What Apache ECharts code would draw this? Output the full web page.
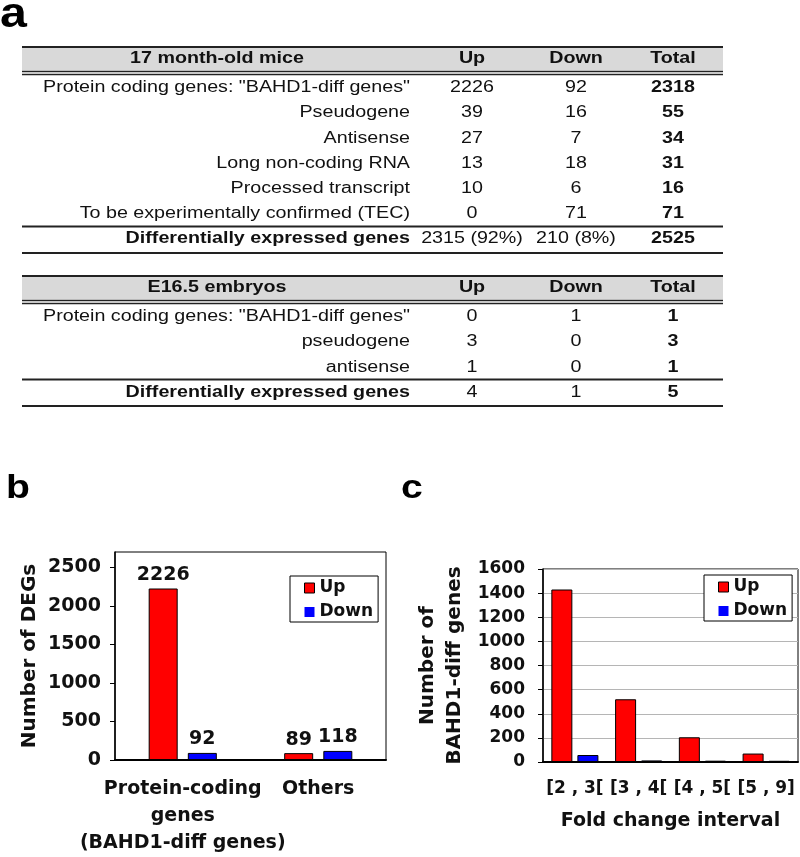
<!DOCTYPE html>
<html><head><meta charset="utf-8">
<script src="https://cdn.jsdelivr.net/npm/echarts@6.0.0/dist/echarts.min.js"></script>
<style>html,body{margin:0;padding:0;background:#fff}#chart{width:800px;height:857px}</style>
</head><body><div id="chart"></div>
<script>
// ---------- table data ----------
const tableColumns = ['Up', 'Down', 'Total'];
const miceTitle = '17 month-old mice';
const miceLabels = ['Protein coding genes: "BAHD1-diff genes"', 'Pseudogene', 'Antisense', 'Long non-coding RNA', 'Processed transcript', 'To be experimentally confirmed (TEC)'];
const miceUp = [2226, 39, 27, 13, 10, 0];
const miceDown = [92, 16, 7, 18, 6, 71];
const miceTotal = [2318, 55, 34, 31, 16, 71];
const miceSumLabel = 'Differentially expressed genes';
const miceSum = ['2315 (92%)', '210 (8%)', '2525'];
const embTitle = 'E16.5 embryos';
const embLabels = ['Protein coding genes: "BAHD1-diff genes"', 'pseudogene', 'antisense'];
const embUp = [0, 3, 1];
const embDown = [1, 0, 0];
const embTotal = [1, 3, 1];
const embSumLabel = 'Differentially expressed genes';
const embSum = ['4', '1', '5'];

// ---------- chart data ----------
const seriesNames = ['Up', 'Down'];
const bCategories = ['Protein-coding\ngenes\n(BAHD1-diff genes)', 'Others'];
const bUp = [2226, 89];
const bDown = [92, 118];
const bTicks = [0, 500, 1000, 1500, 2000, 2500];
const cCategories = ['[2 , 3[', '[3 , 4[', '[4 , 5[', '[5 , 9]'];
const cUp = [1430, 520, 205, 70];
const cDown = [58, 13, 11, 10];

// ---------- styles ----------
const ARIAL = '"Liberation Sans", Arial, sans-serif';
const DV = '"DejaVu Sans", Verdana, sans-serif';
const INK = '#111';
const RED = '#ff0000';
const BLUE = '#0000ff';
const TX = { left: 22, right: 723, label: 410, title: 217, cols: [472, 576, 673] };
const SX = 1.23;
const ROW_H = 25.3;

function txt(x, y, s, bold, align) {
  return {
    type: 'text', x: x, y: y, scaleX: SX, silent: true,
    style: {
      text: String(s), x: 0, y: 0, fill: INK,
      font: (bold ? 'bold ' : '') + '16px ' + ARIAL,
      align: align || 'center', verticalAlign: 'middle'
    }
  };
}
function hline(y, w) {
  return { type: 'line', silent: true, shape: { x1: TX.left, y1: y, x2: TX.right, y2: y }, style: { stroke: '#222', lineWidth: w } };
}
function buildTable(T, title, labels, up, down, total, sumLabel, sum) {
  const els = [];
  els.push({ type: 'rect', silent: true, shape: { x: TX.left, y: T, width: TX.right - TX.left, height: 23.5 }, style: { fill: '#d9d9d9' } });
  els.push(hline(T, 2));
  els.push(hline(T + 24.5, 1.5));
  els.push(hline(T + 27.5, 1.5));
  els.push(txt(TX.title, T + 12, title, true));
  tableColumns.forEach((c, i) => els.push(txt(TX.cols[i], T + 12, c, true)));
  labels.forEach((l, r) => {
    const y = T + 40.5 + r * ROW_H;
    els.push(txt(TX.label, y, l, false, 'right'));
    els.push(txt(TX.cols[0], y, up[r], false));
    els.push(txt(TX.cols[1], y, down[r], false));
    els.push(txt(TX.cols[2], y, total[r], true));
  });
  const last = T + 40.5 + (labels.length - 1) * ROW_H;
  const l1 = last + 12.5;
  els.push(hline(l1, 2));
  const sy = l1 + 12.5;
  els.push(txt(TX.label, sy, sumLabel, true, 'right'));
  els.push(txt(TX.cols[0], sy, sum[0], false));
  els.push(txt(TX.cols[1], sy, sum[1], false));
  els.push(txt(TX.cols[2], sy, sum[2], true));
  els.push(hline(sy + 14, 2));
  return els;
}
function panelLetter(x, y, s, size) {
  return { type: 'text', x: x, y: y, scaleX: 1.15, silent: true, style: { text: s, x: 0, y: 0, fill: '#000', font: 'bold ' + size + 'px ' + ARIAL, align: 'left', verticalAlign: 'middle' } };
}

const graphics = []
  .concat([panelLetter(0, 15, 'a', 42), panelLetter(6, 489, 'b', 34), panelLetter(401, 489, 'c', 34)])
  .concat(buildTable(47, miceTitle, miceLabels, miceUp, miceDown, miceTotal, miceSumLabel, miceSum))
  .concat(buildTable(276, embTitle, embLabels, embUp, embDown, embTotal, embSumLabel, embSum));

const boldText = (size) => ({ fontFamily: DV, fontWeight: 'bold', fontSize: size, color: INK });
const plain = (v) => String(v);

function legendCfg(left, top, size) {
  return {
    left: left, top: top, orient: 'vertical', selectedMode: false, icon: 'rect',
    data: [
      { name: seriesNames[0], itemStyle: { color: RED, borderColor: '#000', borderWidth: 1 } },
      { name: seriesNames[1], itemStyle: { color: BLUE, borderWidth: 0 } }
    ],
    itemWidth: 10, itemHeight: 10, itemGap: 4,
    padding: [2, 5, 0, 14],
    borderColor: '#000', borderWidth: 1, backgroundColor: '#fff',
    textStyle: Object.assign(boldText(size), { lineHeight: 20 })
  };
}

const option = {
  animation: false,
  backgroundColor: '#fff',
  graphic: graphics,
  grid: [
    { left: 115, top: 552, width: 271, height: 210, show: true, borderColor: '#000', borderWidth: 1, backgroundColor: '#fff' },
    { left: 543, top: 569, width: 255, height: 193, show: true, borderColor: '#000', borderWidth: 1, backgroundColor: '#fff' }
  ],
  xAxis: [
    {
      type: 'category', gridIndex: 0, data: bCategories,
      axisLine: { lineStyle: { color: '#000', width: 2 } },
      axisTick: { show: false },
      axisLabel: Object.assign(boldText(19), { lineHeight: 27, margin: 16, interval: 0 })
    },
    {
      type: 'category', gridIndex: 1, data: cCategories,
      name: 'Fold change interval', nameLocation: 'middle', nameGap: 50, nameMoveOverlap: false,
      nameTextStyle: boldText(19),
      axisLine: { lineStyle: { color: '#000', width: 2 } },
      axisTick: { show: false },
      axisLabel: Object.assign(boldText(17), { margin: 18, interval: 0 })
    }
  ],
  yAxis: [
    {
      type: 'value', gridIndex: 0, min: 0, max: 2700,
      name: 'Number of DEGs', nameLocation: 'middle', nameGap: 75, nameRotate: 90, nameMoveOverlap: false,
      nameTextStyle: boldText(20),
      axisLine: { show: true, lineStyle: { color: '#000', width: 1.5 } },
      axisTick: { show: true, length: 5, lineStyle: { color: '#000' }, customValues: bTicks },
      axisLabel: Object.assign(boldText(19), { margin: 14, customValues: bTicks, formatter: plain }),
      splitLine: { show: false }
    },
    {
      type: 'value', gridIndex: 1, min: 0, max: 1600, interval: 200,
      name: 'Number of\nBAHD1-diff genes', nameLocation: 'middle', nameGap: 75, nameRotate: 90, nameMoveOverlap: false,
      nameTextStyle: Object.assign(boldText(20), { lineHeight: 27 }),
      axisLine: { show: true, lineStyle: { color: '#000', width: 1.5 } },
      axisTick: { show: true, length: 5, lineStyle: { color: '#000' } },
      axisLabel: Object.assign(boldText(17), { margin: 18, formatter: plain }),
      splitLine: { show: true, lineStyle: { color: '#b5b5b5', width: 1 } }
    }
  ],
  legend: [legendCfg(290, 576, 17), legendCfg(704, 575, 17)],
  series: [
    {
      type: 'bar', name: seriesNames[0], xAxisIndex: 0, yAxisIndex: 0, data: bUp,
      barWidth: 29, barGap: '35%',
      itemStyle: { color: RED, borderColor: '#000', borderWidth: 1 },
      label: Object.assign({ show: true, position: 'top', distance: 4 }, boldText(19))
    },
    {
      type: 'bar', name: seriesNames[1], xAxisIndex: 0, yAxisIndex: 0, data: bDown,
      barWidth: 29, barGap: '35%',
      itemStyle: { color: BLUE, borderColor: '#000', borderWidth: 1 },
      label: Object.assign({ show: true, position: 'top', distance: 4 }, boldText(19))
    },
    {
      type: 'bar', name: seriesNames[0], xAxisIndex: 1, yAxisIndex: 1, data: cUp,
      barWidth: 21, barGap: '24%',
      itemStyle: { color: RED, borderColor: '#000', borderWidth: 1 }
    },
    {
      type: 'bar', name: seriesNames[1], xAxisIndex: 1, yAxisIndex: 1, data: cDown,
      barWidth: 21, barGap: '24%',
      itemStyle: { color: BLUE, borderColor: '#000', borderWidth: 1 }
    }
  ]
};

const chart = echarts.init(document.getElementById('chart'), null, { renderer: 'canvas' });
chart.setOption(option);
</script>
</body></html>
